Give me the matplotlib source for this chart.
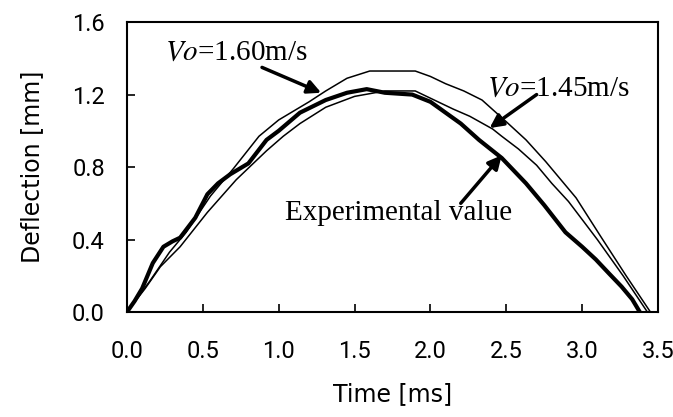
import matplotlib
matplotlib.use("Agg")
import matplotlib.pyplot as plt

# Measured deflection history
exp_t = [0.0, 0.05, 0.10, 0.17, 0.24, 0.30, 0.35, 0.45, 0.53, 0.60, 0.68, 0.80,
         0.92, 1.00, 1.14, 1.31, 1.45, 1.58, 1.70, 1.88, 2.00, 2.10, 2.20, 2.32,
         2.47, 2.63, 2.75, 2.89, 3.00, 3.09, 3.18, 3.26, 3.33, 3.38]
exp_d = [0.0, 0.06, 0.13, 0.27, 0.36, 0.39, 0.41, 0.52, 0.65, 0.71, 0.76, 0.82,
         0.95, 1.00, 1.10, 1.17, 1.21, 1.23, 1.21, 1.20, 1.16, 1.10, 1.04, 0.95,
         0.85, 0.71, 0.59, 0.44, 0.36, 0.29, 0.21, 0.14, 0.07, 0.0]

# Simulated deflection, impact velocity 1.60 m/s
v160_t = [0.0, 0.15, 0.28, 0.39, 0.55, 0.70, 0.87, 1.00, 1.10, 1.20, 1.31, 1.45,
          1.60, 1.90, 2.00, 2.10, 2.22, 2.34, 2.50, 2.63, 2.76, 2.96, 3.12, 3.29,
          3.45]
v160_d = [0.0, 0.17, 0.33, 0.44, 0.64, 0.79, 0.97, 1.06, 1.11, 1.16, 1.22, 1.29,
          1.33, 1.33, 1.30, 1.26, 1.22, 1.17, 1.05, 0.95, 0.83, 0.63, 0.42, 0.20,
          0.0]

# Simulated deflection, impact velocity 1.45 m/s
v145_t = [0.0, 0.12, 0.22, 0.35, 0.53, 0.72, 0.92, 1.03, 1.14, 1.31, 1.50, 1.70,
          1.90, 2.00, 2.15, 2.26, 2.41, 2.47, 2.58, 2.70, 2.80, 2.91, 3.10, 3.27,
          3.43]
v145_d = [0.0, 0.13, 0.25, 0.36, 0.55, 0.73, 0.89, 0.97, 1.04, 1.13, 1.19, 1.22,
          1.22, 1.18, 1.12, 1.08, 1.01, 0.97, 0.90, 0.81, 0.71, 0.61, 0.40, 0.20,
          0.0]

x_ticks = [0.0, 0.5, 1.0, 1.5, 2.0, 2.5, 3.0, 3.5]
y_ticks = [0.0, 0.4, 0.8, 1.2, 1.6]

sans = ["DejaVu Sans"]
tick_font = ["Roboto", "DejaVu Sans"]
serif = ["Liberation Serif", "DejaVu Serif"]
plt.rcParams["mathtext.fontset"] = "stix"

fig = plt.figure(figsize=(6.73, 4.17), dpi=100)
ax = fig.add_axes([0.1887, 0.2518, 0.789, 0.6952])

ax.plot(v160_t, v160_d, color="black", lw=1.1)
ax.plot(v145_t, v145_d, color="black", lw=1.1)
ax.plot(exp_t, exp_d, color="black", lw=3.0, solid_joinstyle="round")

ax.set_xlim(0, 3.5)
ax.set_ylim(0, 1.6)
ax.set_xticks(x_ticks)
ax.set_yticks(y_ticks)
ax.set_xticklabels([f"{v:.1f}" for v in x_ticks], family=tick_font, fontsize=17)
ax.set_yticklabels([f"{v:.1f}" for v in y_ticks], family=tick_font, fontsize=17)
ax.tick_params(direction="in", length=6, width=1.2)
ax.tick_params(axis="y", pad=16)
ax.tick_params(axis="x", pad=20)
for s in ax.spines.values():
    s.set_linewidth(1.5)

ax.set_xlabel("Time [ms]", family=sans, fontsize=17, labelpad=14)
ax.set_ylabel("Deflection [mm]", family=sans, fontsize=17, labelpad=20)

arrow = dict(arrowstyle="-|>", lw=2.5, color="black", mutation_scale=20,
             shrinkA=0, shrinkB=0)

ax.annotate("", xy=(1.28, 1.21), xytext=(0.89, 1.35), arrowprops=arrow)
ax.text(0.25, 1.43, r"$Vo$=1.60m/s", family=serif, fontsize=21,
        ha="left", va="center")

ax.annotate("", xy=(2.39, 1.015), xytext=(2.70, 1.20), arrowprops=arrow)
ax.text(2.375, 1.23, r"$Vo$=1.45m/s", family=serif, fontsize=21,
        ha="left", va="center")

ax.annotate("", xy=(2.47, 0.865), xytext=(2.20, 0.60), arrowprops=arrow)
ax.text(1.04, 0.545, "Experimental value", family=serif, fontsize=21,
        ha="left", va="center")

fig.savefig("out.png", dpi=100)
